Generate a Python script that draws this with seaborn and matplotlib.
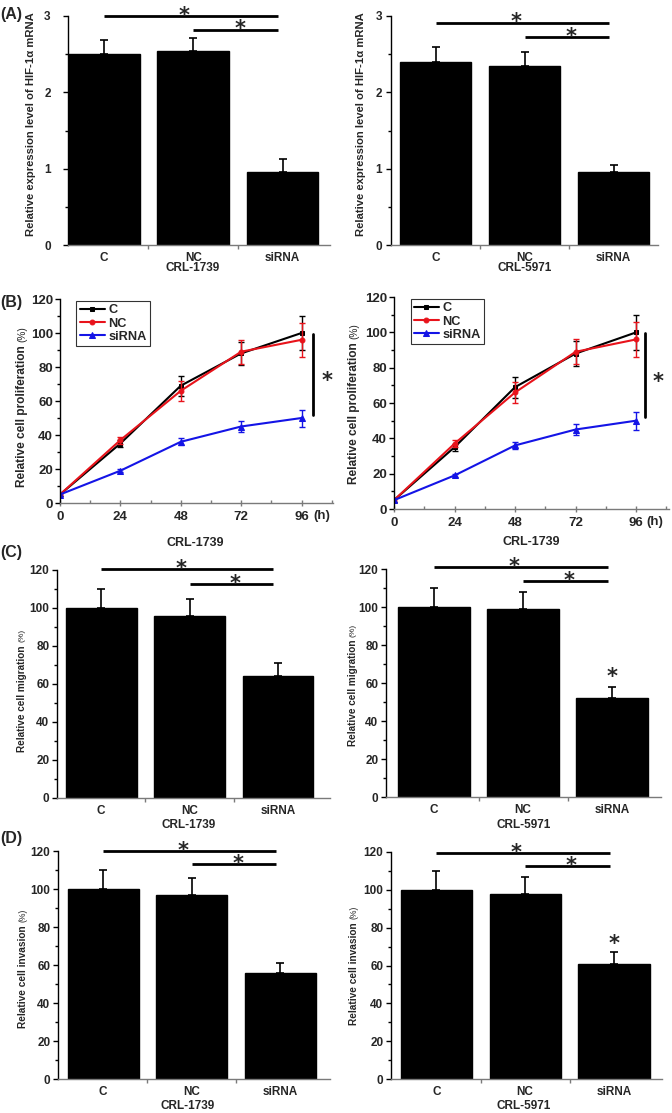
"""
plot.py - HIF-1a knockdown figure: mRNA level, proliferation, migration, invasion.
Four rows of panels (A-D), two cell lines per row. Saved as out.png.
"""

import numpy as np
import pandas as pd
import matplotlib.pyplot as plt
import matplotlib.ticker as mticker
import seaborn as sns

# ── Data ──────────────────────────────────────────────────────────────────────
GROUPS = ["C", "NC", "siRNA"]

# (A) relative HIF-1a mRNA
hif_1739 = [2.50, 2.54, 0.96]
hif_1739_err = [0.19, 0.17, 0.17]
hif_5971 = [2.40, 2.35, 0.96]
hif_5971_err = [0.20, 0.18, 0.09]

# (B) relative proliferation (%) over time
HOURS = [0, 24, 48, 72, 96]
prolif_c = [5, 35, 69, 88, 100]
prolif_c_err = [1, 2, 6, 7, 10]
prolif_nc = [5, 37, 66, 89, 96]
prolif_nc_err = [1, 2, 6, 7, 10]
prolif_si = [5, 19, 36, 45, 50]
prolif_si_err = [1, 1, 2, 3, 5]

# (C) relative migration (%)
mig_1739 = [100, 96, 64]
mig_1739_err = [10, 9, 7]
mig_5971 = [100, 99, 52]
mig_5971_err = [10, 9, 6]

# (D) relative invasion (%)
inv_1739 = [100, 97, 56]
inv_1739_err = [10, 9, 5]
inv_5971 = [100, 98, 61]
inv_5971_err = [10, 9, 6]

W, H = 672, 1113

sns.set_theme(style="ticks")
plt.rcParams["font.family"] = ["Liberation Sans", "DejaVu Sans"]
plt.rcParams["font.weight"] = "bold"
plt.rcParams["axes.labelweight"] = "bold"

fig = plt.figure(figsize=(W / 100, H / 100), dpi=100)


def px_axes(l, t, r, b):
    """Axes from pixel box (left, top, right, bottom)."""
    return fig.add_axes([l / W, 1 - b / H, (r - l) / W, (b - t) / H])


def fig_text(x, y, s, **kw):
    return fig.text(x / W, 1 - y / H, s, **kw)


def star(ax, x, y, lift=4.5, fs=15):
    # asterisk centre sits ~0.57 em above the baseline
    ax.annotate("*", xy=(x, y), xytext=(0, lift - 0.57 * fs), textcoords="offset points",
                ha="center", va="baseline", fontsize=fs, fontweight="bold",
                family="DejaVu Sans", annotation_clip=False)


def bold_ticks(ax):
    for lbl in ax.get_xticklabels() + ax.get_yticklabels():
        lbl.set_fontweight("bold")


def style_axes(ax, ylim, ymajor, yminor, tick_fs, ypad):
    sns.despine(ax=ax)
    ax.spines["left"].set_color("black")
    ax.spines["bottom"].set_color("#7a7a7a")
    for s in ("left", "bottom"):
        ax.spines[s].set_linewidth(1.0)
    ax.set_ylim(*ylim)
    ax.yaxis.set_major_locator(mticker.MultipleLocator(ymajor))
    ax.yaxis.set_minor_locator(mticker.MultipleLocator(yminor))
    ax.tick_params(axis="y", which="major", direction="out", length=3.5, width=1,
                   labelsize=tick_fs, pad=ypad, color="black")
    ax.tick_params(axis="y", which="minor", direction="out", length=2, width=1, color="black")
    ax.set_xlabel("")
    ax.set_ylabel("")


def bar_panel(box, vals, errs, xlim, ylim, ymajor, yminor, sig, tick_fs=8.5, ypad=2):
    ax = px_axes(*box)
    sns.barplot(x=GROUPS, y=vals, color="black", edgecolor="black", width=0.8,
                errorbar=None, saturation=1, ax=ax)
    ax.errorbar(range(len(vals)), vals, yerr=[np.zeros(len(errs)), errs], fmt="none",
                ecolor="black", elinewidth=1.2, capsize=3, capthick=1.2)
    style_axes(ax, ylim, ymajor, yminor, tick_fs, ypad)
    ax.set_xlim(*xlim)
    ax.set_xticks(range(len(GROUPS)))
    ax.set_xticklabels(GROUPS)
    ax.set_xticks([0.5, 1.5], minor=True)
    ax.tick_params(axis="x", which="major", length=0, labelsize=8.5, pad=5)
    ax.tick_params(axis="x", which="minor", direction="out", length=3, width=1, color="#7a7a7a")
    bold_ticks(ax)
    long_y, short_y, single_y = sig
    ax.plot([0, 1.95], [long_y, long_y], color="black", lw=2, clip_on=False, solid_capstyle="butt")
    ax.plot([1, 1.95], [short_y, short_y], color="black", lw=2, clip_on=False, solid_capstyle="butt")
    star(ax, 0.9, long_y)
    star(ax, 1.52, short_y)
    if single_y is not None:
        star(ax, 2, single_y, lift=0)
    return ax


def prolif_panel(box, xmax, sig_x, star_x):
    ax = px_axes(*box)
    series = [
        ("C", prolif_c, prolif_c_err, "black", "s", 3.5),
        ("NC", prolif_nc, prolif_nc_err, "#e8131b", "o", 3.5),
        ("siRNA", prolif_si, prolif_si_err, "#1414e6", "^", 4.5),
    ]
    for name, vals, errs, color, marker, ms in series:
        df = pd.DataFrame({"h": HOURS, "v": vals})
        sns.lineplot(data=df, x="h", y="v", color=color, marker=marker, markersize=ms,
                     markeredgecolor=color, lw=1.5, label=name, ax=ax)
        ax.errorbar(HOURS, vals, yerr=errs, fmt="none", ecolor=color, elinewidth=1,
                    capsize=2.5, capthick=1)
    style_axes(ax, (0, 120), 20, 10, 9.5, 1.5)
    ax.set_xlim(0, xmax)
    ax.set_xticks(HOURS)
    ax.xaxis.set_minor_locator(mticker.MultipleLocator(12))
    ax.tick_params(axis="x", which="major", direction="inout", length=5, width=1,
                   labelsize=9.5, pad=3, color="#7a7a7a")
    ax.tick_params(axis="x", which="minor", direction="in", length=2.5, width=1, color="#7a7a7a")
    bold_ticks(ax)
    ax.plot([sig_x, sig_x], [52, 99.5], color="black", lw=2, clip_on=False)
    star(ax, star_x, 75, lift=0)
    leg = ax.legend(loc="upper left", bbox_to_anchor=(0.06, 0.99), fontsize=9.2, frameon=True,
                    fancybox=False, edgecolor="black", handlelength=2.0, handletextpad=0.25,
                    borderpad=0.25, labelspacing=0.1, borderaxespad=0)
    leg.get_frame().set_linewidth(0.8)
    for t in leg.get_texts():
        t.set_fontweight("bold")
    return ax


def pct_ylabel(x, y_end, main, fs):
    """Bold label ending at y_end (pixels), with a smaller plain '(%)' after it."""
    fig_text(x, y_end, main, rotation=90, rotation_mode="anchor", ha="right", va="center",
             fontsize=fs, fontweight="bold")
    fig_text(x, y_end - 3, "(%)", rotation=90, rotation_mode="anchor", ha="left", va="center",
             fontsize=fs * 0.85, fontweight="normal")


# ── (A) HIF-1a mRNA ──────────────────────────────────────────────────────────
a1 = bar_panel((68, 16, 330, 245), hif_1739, hif_1739_err, (-0.4, 2.53), (0, 3), 1, 0.5,
               (3.0, 2.82, None), ypad=9)
a2 = bar_panel((391, 16, 658, 245), hif_5971, hif_5971_err, (-0.5, 2.5), (0, 3), 1, 0.5,
               (2.91, 2.72, None), ypad=3)
for xpx in (31, 361):
    fig_text(xpx, 124, "Relative expression level of HIF-1α mRNA", rotation=90,
             ha="center", va="center", fontsize=8.1, fontweight="bold")
fig_text(193, 268, "CRL-1739", ha="center", va="center", fontsize=8.5)
fig_text(525, 268, "CRL-5971", ha="center", va="center", fontsize=8.5)

# ── (B) proliferation ────────────────────────────────────────────────────────
b1 = prolif_panel((60, 299, 333, 503), 108.5, 100.5, 106.3)
b2 = prolif_panel((394, 297, 669, 509), 109, 99.6, 104.8)
pct_ylabel(22, 345, "Relative cell proliferation", 8.6)
pct_ylabel(354, 342, "Relative cell proliferation", 8.6)
fig_text(322, 516, "(h)", ha="center", va="center", fontsize=9.5, fontweight="bold")
fig_text(655, 522, "(h)", ha="center", va="center", fontsize=9.5, fontweight="bold")
fig_text(195, 543, "CRL-1739", ha="center", va="center", fontsize=9)
fig_text(531, 542, "CRL-1739", ha="center", va="center", fontsize=9)

# ── (C) migration ────────────────────────────────────────────────────────────
bar_panel((57, 570, 330, 798), mig_1739, mig_1739_err, (-0.5, 2.59), (0, 120), 20, 10,
          (120.5, 112.6, None))
bar_panel((386, 569, 661, 797), mig_5971, mig_5971_err, (-0.54, 2.55), (0, 120), 20, 10,
          (121, 113.7, 66))
pct_ylabel(22, 645, "Relative cell migration", 7.2)
pct_ylabel(353, 640, "Relative cell migration", 7.2)
fig_text(189, 825, "CRL-1739", ha="center", va="center", fontsize=8.5)
fig_text(524, 825, "CRL-5971", ha="center", va="center", fontsize=8.5)

# ── (D) invasion ─────────────────────────────────────────────────────────────
bar_panel((58, 851, 330, 1079), inv_1739, inv_1739_err, (-0.51, 2.56), (0, 120), 20, 10,
          (120, 113, None))
bar_panel((391, 852, 662, 1079), inv_5971, inv_5971_err, (-0.51, 2.54), (0, 120), 20, 10,
          (119.5, 112.6, 74.5))
pct_ylabel(23, 925, "Relative cell invasion", 7.3)
pct_ylabel(354, 922, "Relative cell invasion", 7.3)
fig_text(188, 1106, "CRL-1739", ha="center", va="center", fontsize=8.5)
fig_text(524, 1106, "CRL-5971", ha="center", va="center", fontsize=8.5)

# panel letters
for letter, ypx in (("(A)", 15), ("(B)", 303), ("(C)", 553), ("(D)", 838)):
    fig_text(11, ypx, letter, ha="center", va="center", fontsize=11.5, fontweight="bold")

fig.savefig("out.png", dpi=100)
plt.close(fig)
